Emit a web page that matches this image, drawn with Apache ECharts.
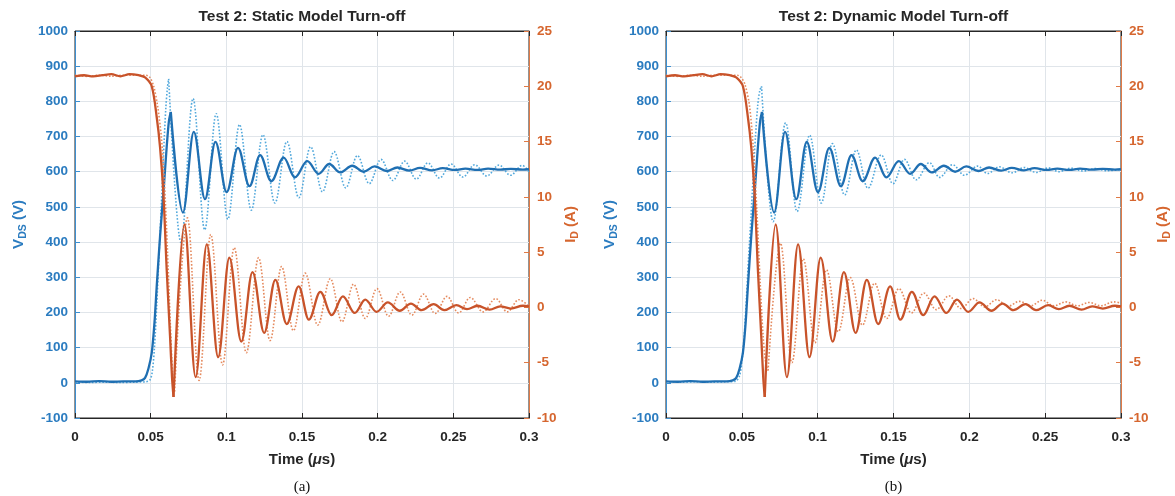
<!DOCTYPE html>
<html><head><meta charset="utf-8">
<script src="https://cdn.jsdelivr.net/npm/echarts@6/dist/echarts.min.js"></script>
<style>html,body{margin:0;padding:0;background:#fff}#c{width:1175px;height:496px}</style>
</head><body><div id="c"></div>
<script>
// ---------------- data (time in µs) ----------------
const panelTitles = ['Test 2: Static Model Turn-off', 'Test 2: Dynamic Model Turn-off'];
const panelTags = ['(a)', '(b)'];
const timeTickLabels = ['0', '0.05', '0.1', '0.15', '0.2', '0.25', '0.3'];
const vdsTickLabels = ['-100','0','100','200','300','400','500','600','700','800','900','1000'];
const idTickLabels = ['-10','-5','0','5','10','15','20','25'];

// measured (solid) VDS, V
const vdsMeasured = [[0,4],[0.008,3],[0.016,5],[0.024,3],[0.032,4],[0.040,4],[0.044,7],[0.0463,14],[0.0485,40],[0.0507,85],[0.0525,170],[0.054,274],[0.0562,416],[0.0584,539],[0.0606,671],[0.0621,745],[0.0633,770],[0.0713,484],[0.0785,713],[0.0859,522],[0.0928,685],[0.1002,542],[0.1077,668],[0.1153,559],[0.1223,647],[0.1297,573],[0.1379,640],[0.1453,584],[0.1535,630],[0.161,594],[0.168,622],[0.1752,598],[0.1832,617],[0.1906,600],[0.198,615],[0.206,602],[0.213,612],[0.221,603],[0.228,611],[0.236,604],[0.243,610],[0.251,605],[0.258,609],[0.266,605],[0.273,609],[0.281,606],[0.288,608],[0.296,606],[0.3,607]];
// measured (solid) ID, A
const idMeasured = [[0,20.9],[0.006,21.0],[0.012,20.9],[0.018,21.0],[0.024,21.1],[0.030,20.9],[0.036,21.1],[0.042,21.0],[0.0463,20.8],[0.0507,20.0],[0.054,17.2],[0.0562,14.5],[0.0584,10.3],[0.0606,3.4],[0.0628,-2.6],[0.0641,-6.3],[0.0651,-8.1],[0.0723,7.5],[0.0797,-6.3],[0.0871,5.7],[0.0946,-4.5],[0.102,4.5],[0.1099,-3.1],[0.1173,3.2],[0.125,-2.3],[0.1324,2.5],[0.1399,-1.5],[0.1478,1.9],[0.1545,-1.1],[0.1621,1.4],[0.1696,-0.7],[0.177,1.0],[0.1849,-0.5],[0.1918,0.7],[0.1993,-0.4],[0.2067,0.45],[0.2146,-0.3],[0.222,0.35],[0.229,-0.25],[0.237,0.3],[0.244,-0.25],[0.252,0.2],[0.259,-0.15],[0.266,0.15],[0.274,-0.2],[0.281,0.1],[0.288,-0.1],[0.296,0.15],[0.3,0.1]];
// static model (dotted) VDS, V
const vdsStaticModel = [[0,2],[0.010,1],[0.020,2],[0.030,1],[0.040,2],[0.047,3],[0.0495,8],[0.051,30],[0.0525,100],[0.054,220],[0.0555,360],[0.057,500],[0.0585,650],[0.060,780],[0.0611,840],[0.0619,864],[0.0700,399],[0.0780,808],[0.0857,435],[0.0933,765],[0.1010,465],[0.1087,734],[0.1165,491],[0.1242,705],[0.1321,511],[0.140,686],[0.1479,526],[0.1557,671],[0.1635,543],[0.1712,657],[0.1789,554],[0.1866,646],[0.1944,566],[0.2022,635],[0.2100,575],[0.2178,630],[0.2255,579],[0.2332,625],[0.2408,582],[0.2485,622],[0.2563,585],[0.2641,620],[0.2721,588],[0.2802,619],[0.2878,590],[0.2955,618],[0.3,600]];
// static model (dotted) ID, A
const idStaticModel = [[0,21.0],[0.008,20.9],[0.016,21.0],[0.024,20.9],[0.032,21.0],[0.040,21.0],[0.047,21.0],[0.0495,20.8],[0.052,20.0],[0.0545,18.3],[0.057,15.5],[0.059,11.5],[0.061,5.5],[0.063,-1.5],[0.0645,-6.0],[0.0658,-7.6],[0.0743,8.1],[0.0820,-6.6],[0.0897,6.6],[0.0975,-5.2],[0.1052,5.4],[0.1132,-4.1],[0.1213,4.5],[0.1289,-3.0],[0.1365,3.7],[0.1443,-2.1],[0.1521,3.1],[0.1604,-1.6],[0.1687,2.6],[0.1764,-1.3],[0.1841,2.1],[0.1918,-1.0],[0.1995,1.7],[0.2072,-0.8],[0.2149,1.4],[0.2226,-0.7],[0.2303,1.2],[0.238,-0.55],[0.2458,1.0],[0.2535,-0.5],[0.2612,0.9],[0.2696,-0.4],[0.278,0.8],[0.2856,-0.4],[0.2933,0.7],[0.3,0.1]];
// dynamic model (dotted) VDS, V
const vdsDynamicModel = [[0,3],[0.010,2],[0.020,3],[0.030,2],[0.040,3],[0.046,5],[0.0485,20],[0.050,60],[0.0515,130],[0.053,240],[0.0545,360],[0.056,470],[0.0575,590],[0.059,700],[0.0605,790],[0.0618,830],[0.063,843],[0.0706,458],[0.0789,739],[0.0864,487],[0.0947,704],[0.1024,511],[0.1097,680],[0.1178,534],[0.1255,662],[0.1331,553],[0.1419,648],[0.1496,566],[0.1572,635],[0.1649,577],[0.1737,626],[0.1803,584],[0.189,620],[0.1967,590],[0.2055,616],[0.212,595],[0.2197,614],[0.2283,597],[0.236,612],[0.244,598],[0.252,611],[0.2592,600],[0.267,610],[0.275,602],[0.283,609],[0.291,603],[0.3,606]];
// dynamic model (dotted) ID, A
const idDynamicModel = [[0,21.0],[0.008,20.9],[0.016,21.0],[0.024,20.9],[0.032,21.0],[0.040,21.0],[0.047,21.0],[0.0495,20.8],[0.052,20.2],[0.055,18.3],[0.0575,14.5],[0.060,8.5],[0.062,2.5],[0.064,-2.5],[0.0657,-5.0],[0.0673,-5.7],[0.0755,5.8],[0.0830,-5.0],[0.0905,4.4],[0.0982,-3.2],[0.1058,3.4],[0.1136,-2.2],[0.1215,2.7],[0.1295,-1.6],[0.1375,2.2],[0.1455,-1.0],[0.1535,1.7],[0.1618,-0.5],[0.1700,1.3],[0.1782,-0.2],[0.1865,1.05],[0.1945,-0.1],[0.2025,0.8],[0.2102,0.05],[0.2180,0.7],[0.2255,0.1],[0.2330,0.55],[0.2405,0.15],[0.2480,0.65],[0.2558,0.15],[0.2636,0.5],[0.2713,0.15],[0.2790,0.45],[0.2870,0.15],[0.2950,0.5],[0.3,0.4]];

// ---------------- styling ----------------
const FONT = 'Liberation Sans, Arial, Helvetica, sans-serif';
const DARK = '#262626';
const BLUE_TXT = '#2b7cc0', BLUE_AX = '#3d8fd0';
const ORG_TXT = '#d6662f', ORG_AX = '#e07a46';
const GRIDC = '#e0e5ea';
const panels = [
  {left: 75, width: 454, vdsModel: vdsStaticModel, idModel: idStaticModel},
  {left: 666, width: 455, vdsModel: vdsDynamicModel, idModel: idDynamicModel}
];
const TOP = 31, HEIGHT = 387;

const grid = [], xAxis = [], yAxis = [], series = [], graphic = [];

// a waveform is drawn as two pieces: the switching edge (ordinary smoothing)
// and the ringing after the first extremum (smoothing with flat extrema)
function addWave(name, data, useMax, xi, yi, lineStyle, z) {
  let k = 0;
  data.forEach((d, j) => { if (useMax ? d[1] > data[k][1] : d[1] < data[k][1]) k = j; });
  const base = {type: 'line', showSymbol: false, silent: true, animation: false, xAxisIndex: xi, yAxisIndex: yi, lineStyle, z};
  series.push(Object.assign({}, base, {name: name + ' edge', data: data.slice(0, k + 1), smooth: 0.3}));
  series.push(Object.assign({}, base, {name: name + ' ringing', data: data.slice(k), smooth: 0.36, smoothMonotone: 'x'}));
}

panels.forEach((p, i) => {
  grid.push({left: p.left, top: TOP, width: p.width, height: HEIGHT, show: true,
    borderColor: DARK, borderWidth: 1, backgroundColor: 'transparent', containLabel: false});
  xAxis.push({gridIndex: i, type: 'value', min: 0, max: 0.3, interval: 0.05, position: 'bottom',
    axisLine: {onZero: false, lineStyle: {color: DARK, width: 1}},
    axisTick: {inside: true, length: 5, lineStyle: {color: DARK}},
    axisLabel: {margin: 12, color: DARK, fontSize: 13.5, fontWeight: 'bold', fontFamily: FONT,
      formatter: v => timeTickLabels[Math.round(v / 0.05)]},
    splitLine: {show: true, showMinLine: false, showMaxLine: false, lineStyle: {color: GRIDC, width: 1}},
    name: '{n|Time (}{i|μ}{n|s)}', nameLocation: 'middle', nameGap: 34,
    nameTextStyle: {rich: {
      n: {fontSize: 15, fontWeight: 'bold', fontFamily: FONT, color: DARK},
      i: {fontSize: 15, fontStyle: 'italic', fontWeight: 'bold', fontFamily: FONT, color: DARK}}}
  });
  xAxis.push({gridIndex: i, type: 'value', min: 0, max: 0.3, interval: 0.05, position: 'top',
    axisLine: {onZero: false, lineStyle: {color: DARK, width: 1}},
    axisTick: {inside: true, length: 5, lineStyle: {color: DARK}},
    axisLabel: {show: false}, splitLine: {show: false}});
  yAxis.push({gridIndex: i, type: 'value', min: -100, max: 1000, interval: 100, position: 'left',
    axisLine: {show: true, onZero: false, lineStyle: {color: BLUE_AX, width: 1}},
    axisTick: {show: true, inside: true, length: 5, lineStyle: {color: BLUE_AX}},
    axisLabel: {margin: 7, color: BLUE_TXT, fontSize: 13.5, fontWeight: 'bold', fontFamily: FONT,
      formatter: v => vdsTickLabels[Math.round((v + 100) / 100)]},
    splitLine: {show: true, showMinLine: false, showMaxLine: false, lineStyle: {color: GRIDC, width: 1}},
    name: '{n|V}{s|DS}{n| (V)}', nameLocation: 'middle', nameGap: 46,
    nameTextStyle: {rich: {
      n: {fontSize: 15, fontWeight: 'bold', fontFamily: FONT, color: BLUE_TXT, lineHeight: 20, verticalAlign: 'middle'},
      s: {fontSize: 10.5, fontWeight: 'bold', fontFamily: FONT, color: BLUE_TXT, lineHeight: 10, verticalAlign: 'bottom'}}}
  });
  yAxis.push({gridIndex: i, type: 'value', min: -10, max: 25, interval: 5, position: 'right',
    axisLine: {show: true, onZero: false, lineStyle: {color: ORG_AX, width: 1}},
    axisTick: {show: true, inside: true, length: 5, lineStyle: {color: ORG_AX}},
    axisLabel: {margin: 8, color: ORG_TXT, fontSize: 13.5, fontWeight: 'bold', fontFamily: FONT,
      formatter: v => idTickLabels[Math.round((v + 10) / 5)]},
    splitLine: {show: false},
    name: '{n|I}{s|D}{n| (A)}', nameLocation: 'middle', nameGap: 32,
    nameTextStyle: {rich: {
      n: {fontSize: 15, fontWeight: 'bold', fontFamily: FONT, color: ORG_TXT, lineHeight: 20, verticalAlign: 'middle'},
      s: {fontSize: 10.5, fontWeight: 'bold', fontFamily: FONT, color: ORG_TXT, lineHeight: 10, verticalAlign: 'bottom'}}}
  });
  const xi = 2 * i, yv = 2 * i, yi = 2 * i + 1;
  addWave('VDS model', p.vdsModel, true, xi, yv, {color: '#53a9dc', width: 1.6, type: [1.6, 1.8]}, 2);
  addWave('VDS measured', vdsMeasured, true, xi, yv, {color: '#1f6fb2', width: 2.3}, 3);
  addWave('ID model', p.idModel, false, xi, yi, {color: '#e58a5e', width: 1.6, type: [1.6, 1.8]}, 4);
  addWave('ID measured', idMeasured, false, xi, yi, {color: '#c8532a', width: 2.3}, 5);
  const cx = p.left + p.width / 2;
  graphic.push({type: 'text', x: cx, y: 17, style: {text: panelTitles[i], fill: DARK,
    font: 'bold 15.5px ' + FONT, textAlign: 'center', textVerticalAlign: 'middle'}});
  graphic.push({type: 'text', x: cx, y: 487, style: {text: panelTags[i], fill: '#111',
    font: '15px "Liberation Serif", "Times New Roman", serif', textAlign: 'center', textVerticalAlign: 'middle'}});
});

const chart = echarts.init(document.getElementById('c'), null, {renderer: 'canvas'});
chart.setOption({animation: false, backgroundColor: '#fff', grid, xAxis, yAxis, series, graphic});
</script></body></html>
